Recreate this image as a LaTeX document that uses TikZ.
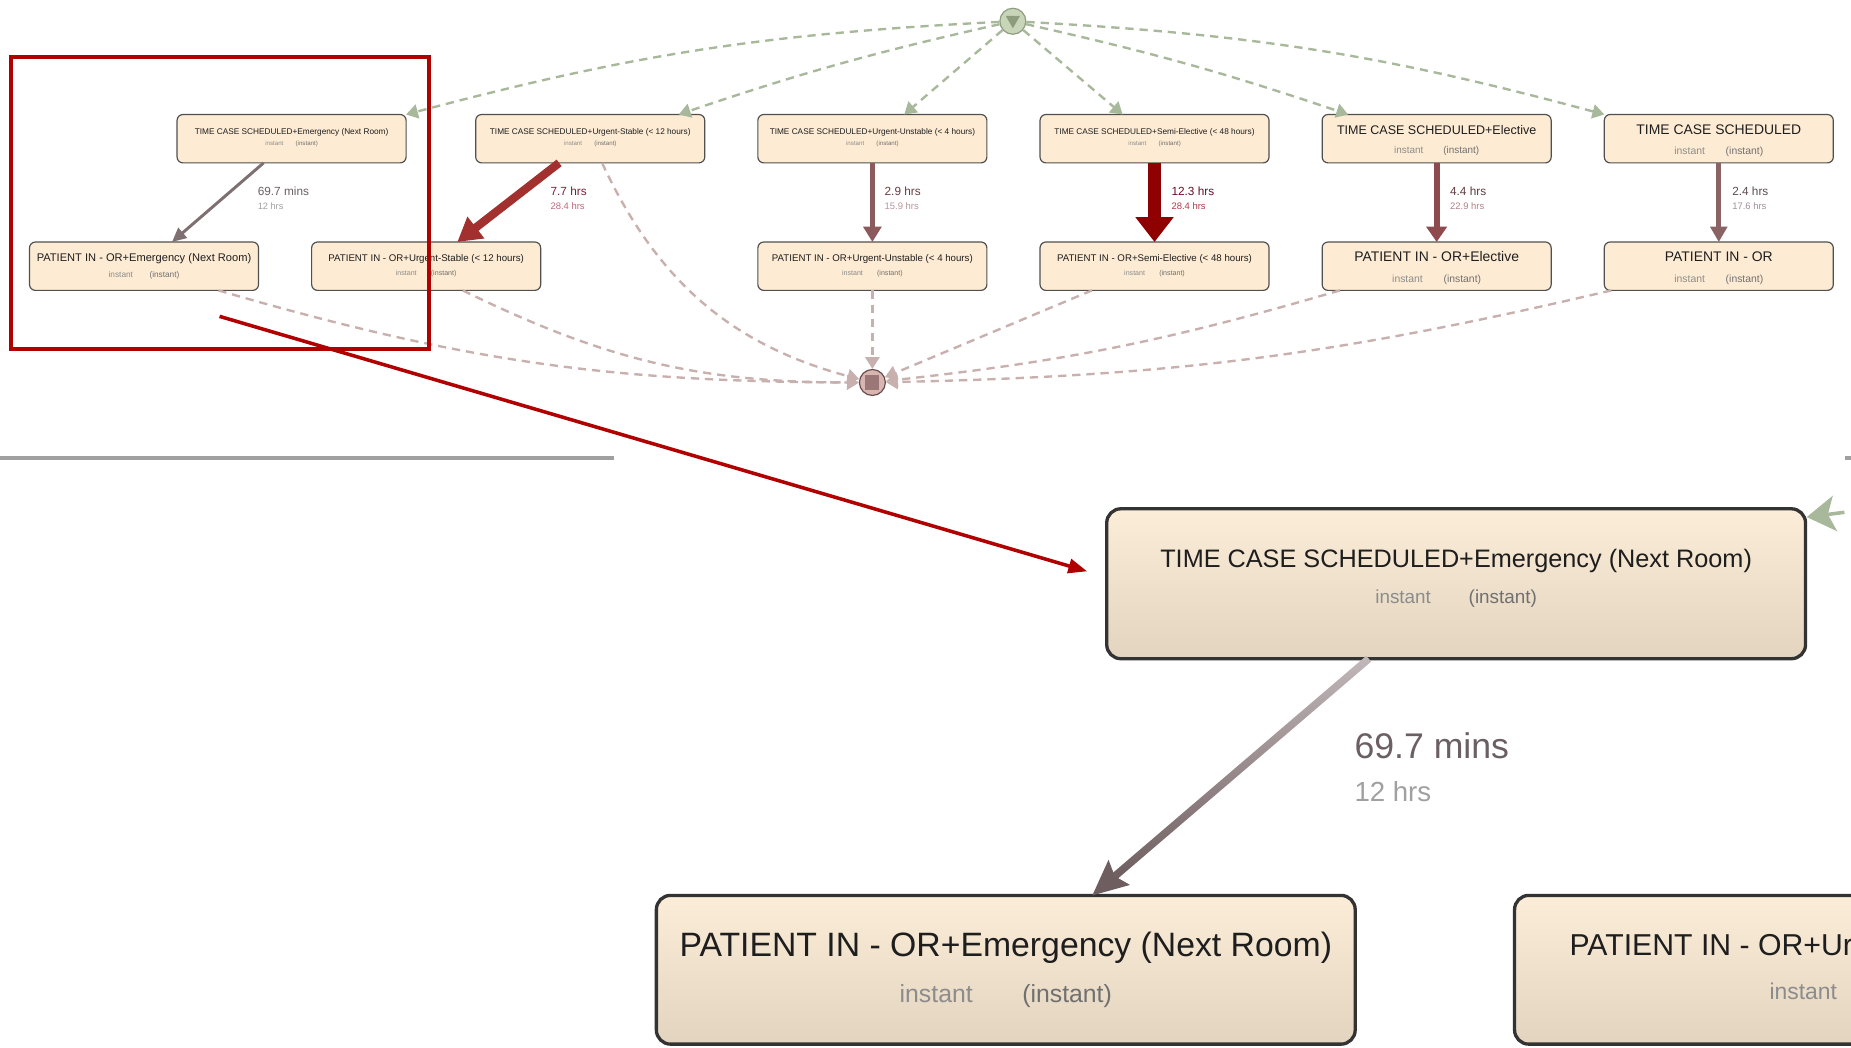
\documentclass[tikz,border=0pt]{standalone}
\usepackage{fontspec}
\setmainfont{Liberation Sans}
\usetikzlibrary{arrows.meta,calc}
\definecolor{nodefill}{HTML}{FDEBD3}
\definecolor{nodeline}{HTML}{505050}
\definecolor{titlecol}{HTML}{1E1E1E}
\definecolor{subgrey}{HTML}{8C8C8C}
\definecolor{subgrey2}{HTML}{707070}
\definecolor{greendash}{HTML}{A8B89A}
\definecolor{browndash}{HTML}{C8B0AE}
\definecolor{startfill}{HTML}{C9D5B9}
\definecolor{startline}{HTML}{8E9C80}
\definecolor{starttri}{HTML}{8C9C7C}
\definecolor{endfill}{HTML}{D7B5B1}
\definecolor{endline}{HTML}{6A4A4A}
\definecolor{endsq}{HTML}{9C7778}
\definecolor{eEm}{HTML}{7E6F70}
\definecolor{eUS}{HTML}{A2302F}
\definecolor{eUU}{HTML}{8C5A5C}
\definecolor{eSE}{HTML}{8F0000}
\definecolor{eEl}{HTML}{8E4A4C}
\definecolor{eTC}{HTML}{8A6364}
\definecolor{lEmA}{HTML}{6B5F64}
\definecolor{lEmB}{HTML}{A0A0A0}
\definecolor{lUSA}{HTML}{7E1E36}
\definecolor{lUSB}{HTML}{C06878}
\definecolor{lUUA}{HTML}{6A3C40}
\definecolor{lUUB}{HTML}{B8959C}
\definecolor{lSEA}{HTML}{6E0A26}
\definecolor{lSEB}{HTML}{B03848}
\definecolor{lElA}{HTML}{5E3A40}
\definecolor{lElB}{HTML}{B08088}
\definecolor{lTCA}{HTML}{5E4C50}
\definecolor{lTCB}{HTML}{A0909A}
\definecolor{redann}{HTML}{B00000}
\definecolor{sepgrey}{HTML}{A0A0A0}
\definecolor{ztop}{HTML}{FCEDD9}
\definecolor{zbot}{HTML}{E2D4BF}
\definecolor{znodeline}{HTML}{333333}
\definecolor{zedgeTop}{HTML}{C2B8B9}
\definecolor{zedgeBot}{HTML}{6E5E60}
\newcommand\fsz[1]{\fontsize{#1}{#1}\selectfont}
\newcommand\instpair{instant\hspace{2em}{\color{subgrey2}(instant)}}
\newcommand\evlabels[6]{%
  \node[ttl,font=\fsz{#2}] (#1n) at ($(#1)+(0,#4)$) {#3};
  \node[sub,font=\fsz{#5}] (#1s) at ($(#1)+(0,#6)$) {\instpair};}
\begin{document}
\begin{tikzpicture}[x=0.5pt,y=-0.5pt,
  evt/.style={draw=nodeline,fill=nodefill,line width=0.5pt,rounded corners=2.5pt,minimum width=97pt,minimum height=20.5pt,inner sep=0pt,outer sep=0pt},
  zevt/.style={draw=znodeline,top color=ztop,bottom color=zbot,line width=1.4pt,rounded corners=6pt,minimum width=296pt,minimum height=63pt,inner sep=0pt,outer sep=0pt},
  ttl/.style={inner sep=0pt,text=titlecol},
  sub/.style={inner sep=0pt,text=subgrey},
  lab/.style={inner sep=0pt,anchor=west},
  gdash/.style={draw=greendash,line width=1pt,dash pattern=on 3.5pt off 2.5pt,-{Triangle[length=5pt,width=6pt]}},
  bdash/.style={draw=browndash,line width=1pt,dash pattern=on 3.5pt off 2.5pt,-{Triangle[length=5pt,width=6pt]}},
]
\clip (0,0) rectangle (1568,887);
\fill[white] (0,0) rectangle (1568,887);

% ---------- top graph: nodes ----------
\node[evt] (t1) at (247,117.5) {};
\node[evt] (t2) at (500,117.5) {};
\node[evt] (t3) at (739,117.5) {};
\node[evt] (t4) at (978,117.5) {};
\node[evt] (t5) at (1217,117.5) {};
\node[evt] (t6) at (1456,117.5) {};
\node[evt] (b1) at (122,225.5) {};
\node[evt] (b2) at (361,225.5) {};
\node[evt] (b3) at (739,225.5) {};
\node[evt] (b4) at (978,225.5) {};
\node[evt] (b5) at (1217,225.5) {};
\node[evt] (b6) at (1456,225.5) {};

\evlabels{t1}{3.5}{TIME CASE SCHEDULED+Emergency (Next Room)}{-5.5}{2.6}{4.5}
\evlabels{t2}{3.5}{TIME CASE SCHEDULED+Urgent-Stable (< 12 hours)}{-5.5}{2.6}{4.5}
\evlabels{t3}{3.5}{TIME CASE SCHEDULED+Urgent-Unstable (< 4 hours)}{-5.5}{2.6}{4.5}
\evlabels{t4}{3.5}{TIME CASE SCHEDULED+Semi-Elective (< 48 hours)}{-5.5}{2.6}{4.5}
\evlabels{t5}{5.3}{TIME CASE SCHEDULED+Elective}{-7}{4.2}{10.5}
\evlabels{t6}{5.9}{TIME CASE SCHEDULED}{-7.5}{4.4}{11.5}
\evlabels{b1}{4.7}{PATIENT IN - OR+Emergency (Next Room)}{-6.5}{3.5}{7.5}
\evlabels{b2}{4.1}{PATIENT IN - OR+Urgent-Stable (< 12 hours)}{-6}{3}{6}
\evlabels{b3}{4.1}{PATIENT IN - OR+Urgent-Unstable (< 4 hours)}{-6}{3}{6}
\evlabels{b4}{4.1}{PATIENT IN - OR+Semi-Elective (< 48 hours)}{-6}{3}{6}
\evlabels{b5}{5.9}{PATIENT IN - OR+Elective}{-8}{4.4}{11.5}
\evlabels{b6}{5.9}{PATIENT IN - OR}{-8}{4.4}{11.5}

% start / end
\node[circle,draw=startline,fill=startfill,line width=0.5pt,minimum size=11pt,inner sep=0pt] (s) at (858,18) {};
\fill[starttri] ($(s)+(-6,-4.5)$) -- ($(s)+(6,-4.5)$) -- ($(s)+(0,6)$) -- cycle;
\node[circle,draw=endline,fill=endfill,line width=0.5pt,minimum size=11pt,inner sep=0pt] (e) at (739,324) {};
\fill[endsq] ($(e)+(-6,-6)$) rectangle ($(e)+(6,6)$);

% green dashed from start
\draw[gdash] (s) to[bend right=6] (t1.north east);
\draw[gdash] (s) to[bend right=3] ($(t2.north east)+(-22,0)$);
\draw[gdash] (s) -- ($(t3.north)+(27,0)$);
\draw[gdash] (s) -- ($(t4.north)+(-27,0)$);
\draw[gdash] (s) to[bend left=3] ($(t5.north west)+(22,0)$);
\draw[gdash] (s) to[bend left=6] (t6.north west);

% brown dashed to end
\draw[bdash] ($(b1.south)+(63,0)$) to[bend right=8] (e);
\draw[bdash] ($(b2.south)+(31,0)$) to[bend right=13] (e);
\draw[bdash] ($(t2.south)+(10,0)$) to[bend right=25] (e);
\draw[bdash] (b3) -- (e);
\draw[bdash] ($(b4.south)+(-53,0)$) -- (e);
\draw[bdash] ($(b5.south)+(-82,0)$) to[bend left=5] (e);
\draw[bdash] ($(b6.south)+(-91,0)$) to[bend left=6] (e);

% solid edges
\draw[line width=1.25pt,draw=eEm,-{Triangle[length=6pt,width=5.5pt]}] (t1) -- (b1);
\draw[line width=3.5pt,draw=eUS,-{Triangle[length=10pt,width=11pt]}] (t2) -- (b2);
\draw[line width=2pt,draw=eUU,-{Triangle[length=6.5pt,width=7.5pt]}] (t3) -- (b3);
\draw[line width=5.5pt,draw=eSE,-{Triangle[length=10.5pt,width=15.5pt]}] (t4) -- (b4);
\draw[line width=2.5pt,draw=eEl,-{Triangle[length=6.5pt,width=8.5pt]}] (t5) -- (b5);
\draw[line width=2pt,draw=eTC,-{Triangle[length=6.5pt,width=7pt]}] (t6) -- (b6);

% edge labels
\node[lab,font=\fsz{5},text=lEmA] (l1a) at (218,162) {69.7 mins};
\node[lab,font=\fsz{3.9},text=lEmB] (l1b) at (218,175) {12 hrs};
\node[lab,font=\fsz{5},text=lUSA] (l2a) at (466,162) {7.7 hrs};
\node[lab,font=\fsz{4},text=lUSB] (l2b) at (466,175) {28.4 hrs};
\node[lab,font=\fsz{5},text=lUUA] (l3a) at (749,162) {2.9 hrs};
\node[lab,font=\fsz{4},text=lUUB] (l3b) at (749,175) {15.9 hrs};
\node[lab,font=\fsz{5},text=lSEA] (l4a) at (992,162) {12.3 hrs};
\node[lab,font=\fsz{4},text=lSEB] (l4b) at (992,175) {28.4 hrs};
\node[lab,font=\fsz{5},text=lElA] (l5a) at (1228,162) {4.4 hrs};
\node[lab,font=\fsz{4},text=lElB] (l5b) at (1228,175) {22.9 hrs};
\node[lab,font=\fsz{5},text=lTCA] (l6a) at (1467,162) {2.4 hrs};
\node[lab,font=\fsz{4},text=lTCB] (l6b) at (1467,175) {17.6 hrs};

% separator
\coordinate (sep1) at (0,388); \coordinate (sep2) at (520,388);
\draw[sepgrey,line width=1.3pt] (sep1) -- (sep2);
\coordinate (sep3) at (1563,388); \coordinate (sep4) at (1570,388);
\draw[sepgrey,line width=1.3pt] (sep3) -- (sep4);

% ---------- zoomed view ----------
\node[zevt,minimum height=63.5pt] (z1) at (1233.5,494.5) {};
\node[zevt] (z2) at (852,821.5) {};
\node[zevt] (z3) at (1579,821.5) {};
\node[ttl,font=\fsz{10.7}] (z1n) at ($(z1)+(0,-19.5)$) {TIME CASE SCHEDULED+Emergency (Next Room)};
\node[sub,font=\fsz{8}] (z1s) at ($(z1)+(0,12.5)$) {\instpair};
\node[ttl,font=\fsz{14.3}] (z2n) at ($(z2)+(0,-18.5)$) {PATIENT IN - OR+Emergency (Next Room)};
\node[sub,font=\fsz{10.5}] (z2s) at ($(z2)+(0,22.5)$) {\instpair};
\node[ttl,font=\fsz{12.8}] (z3n) at ($(z3)+(9,-18.5)$) {PATIENT IN - OR+Urgent-Stable (< 12 hours)};
\node[sub,font=\fsz{9.7}] (z3s) at ($(z3)+(3,20.5)$) {\instpair};

% zoomed edge with gradient
\path (z1) -- coordinate[pos=0] (za) coordinate[pos=1] (zb) (z2);
\coordinate (zh) at ($(zb)!12.5pt!(za)$);
\coordinate (zc) at ($(zb)!15pt!(za)$);
\shade[top color=zedgeTop,bottom color=zedgeBot]
  ($(za)!1.6pt!90:(zb)$) -- ($(za)!1.6pt!-90:(zb)$) -- ($(zh)!1.6pt!90:(za)$) -- ($(zh)!1.6pt!-90:(za)$) -- cycle;
\fill[zedgeBot] (zb) -- ($(zc)!7pt!90:(za)$) -- (zh) -- ($(zc)!7pt!-90:(za)$) -- cycle;
\node[lab,font=\fsz{15.1},text=lEmA] (zl1) at (1147,632) {69.7 mins};
\node[lab,font=\fsz{11.7},text=lEmB] (zl2) at (1147,671) {12 hrs};

% green arrow entering the zoomed node
\coordinate (zgs) at (1610,428);
\draw[draw=greendash,line width=1.5pt,dash pattern=on 7pt off 5pt,-{Stealth[length=12pt,width=15pt,inset=3pt]}] (zgs) -- ($(z1.north east)+(1,7)$);

% ---------- red annotation ----------
\coordinate (rb1) at (9,48); \coordinate (rb2) at (363,296);
\draw[redann,line width=1.7pt] (rb1) rectangle (rb2);
\coordinate (ra1) at (186,268); \coordinate (ra2) at (921,484);
\draw[redann,line width=1.5pt,-{Triangle[length=8pt,width=6pt]}] (ra1) -- (ra2);
\end{tikzpicture}
\end{document}
